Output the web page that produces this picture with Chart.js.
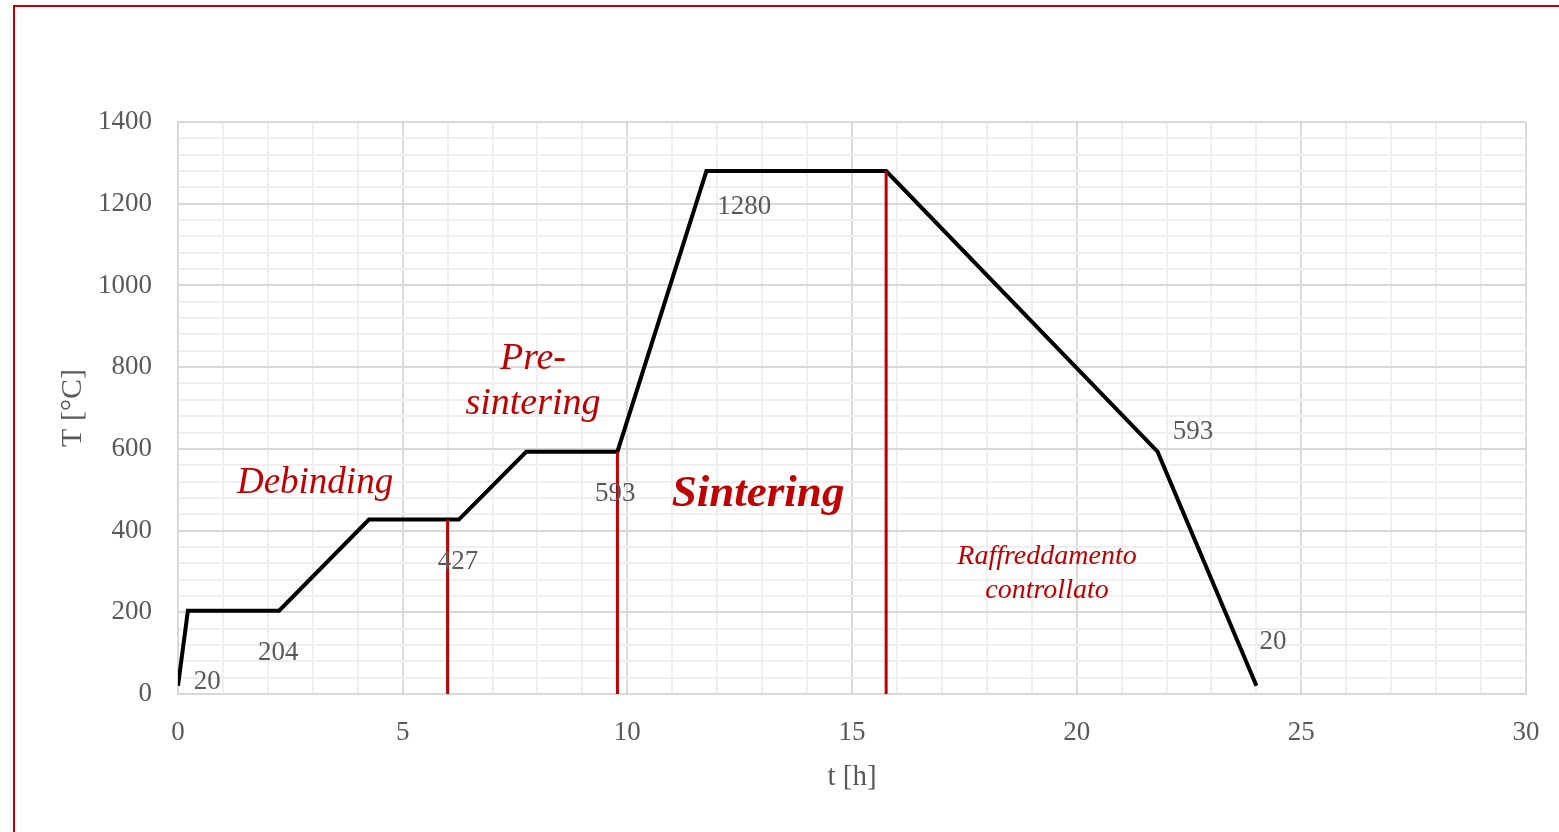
<!DOCTYPE html>
<html>
<head>
<meta charset="utf-8">
<script src="https://cdn.jsdelivr.net/npm/chart.js@4/dist/chart.umd.min.js"></script>
<style>
  html, body { margin: 0; padding: 0; background: #fff; overflow: hidden; }
  #wrap { position: relative; width: 1559px; height: 832px; }
  #frame { position: absolute; left: 13px; top: 5px; right: 0; bottom: 0;
           border-left: 2px solid #c00000; border-top: 2px solid #c00000; pointer-events: none; }
  canvas { position: absolute; left: 0; top: 0; }
</style>
</head>
<body>
<div id="wrap">
  <canvas id="chart" width="1559" height="832"></canvas>
  <div id="frame"></div>
</div>
<script>
// ── Data ───────────────────────────────────────────────────────────────
var timeH = [0, 0.22, 2.25, 4.25, 6.25, 7.75, 9.78, 11.76, 15.76, 21.8, 24.0];
var tempC = [20, 204, 204, 427, 427, 593, 593, 1280, 1280, 593, 20];
// phase boundaries (t) and the temperature the red marker reaches
var boundaryT = [6.0, 9.78, 15.76];
var boundaryTemp = [427, 593, 1280];
// value labels next to the curve
var valueText = ["20", "204", "427", "593", "1280", "593", "20"];
var valueAtT = [0.65, 2.23, 6.23, 9.73, 12.6, 22.59, 24.37];
var valueAtY = [30, 101, 324, 490, 1193, 642, 128];
// phase names
var phaseText = ["Debinding", "Pre-", "sintering", "Sintering", "Raffreddamento", "controllato"];
var phaseAtT = [3.05, 7.9, 7.9, 12.91, 19.34, 19.34];
var phaseAtY = [516, 819, 709, 489, 335, 252];
var phaseFont = ["italic 37px 'Liberation Serif'", "italic 38px 'Liberation Serif'",
                 "italic 38px 'Liberation Serif'", "italic bold 45px 'Liberation Serif'",
                 "italic 28px 'Liberation Serif'", "italic 28px 'Liberation Serif'"];

var RED = "#c00000";
var GREY = "#595959";

var datasets = boundaryT.map(function (t, i) {
    return {
        data: [{ x: t, y: 0 }, { x: t, y: boundaryTemp[i] }],
        borderColor: RED,
        borderWidth: 3,
        pointRadius: 0,
        tension: 0,
    };
});
datasets.push({
    data: timeH.map(function (t, i) { return { x: t, y: tempC[i] }; }),
    borderColor: "#000",
    borderWidth: 4,
    pointRadius: 0,
    tension: 0,
    borderJoinStyle: "miter",
});

// ── Text labels drawn in data coordinates ──────────────────────────────
var labelPlugin = {
    id: "labels",
    afterDatasetsDraw: function (chart) {
        var ctx = chart.ctx;
        var xs = chart.scales.x, ys = chart.scales.y;
        ctx.save();
        ctx.textAlign = "center";
        ctx.textBaseline = "middle";
        ctx.fillStyle = GREY;
        ctx.font = "27px 'Liberation Serif'";
        valueText.forEach(function (s, i) {
            ctx.fillText(s, xs.getPixelForValue(valueAtT[i]), ys.getPixelForValue(valueAtY[i]));
        });
        ctx.fillStyle = RED;
        phaseText.forEach(function (s, i) {
            ctx.font = phaseFont[i];
            ctx.fillText(s, xs.getPixelForValue(phaseAtT[i]), ys.getPixelForValue(phaseAtY[i]));
        });
        ctx.restore();
    }
};

new Chart(document.getElementById("chart"), {
    type: "line",
    data: { datasets: datasets },
    plugins: [labelPlugin],
    options: {
        responsive: false,
        animation: false,
        events: [],
        layout: { padding: { top: 122, right: 33, left: 0, bottom: 0 } },
        plugins: { legend: { display: false }, tooltip: { enabled: false } },
        scales: {
            x: {
                type: "linear",
                min: 0, max: 30,
                afterFit: function (s) { s.height = 138; s.paddingRight = 0; s.paddingLeft = 0; },
                ticks: {
                    stepSize: 1, autoSkip: false, maxRotation: 0, padding: 23,
                    color: GREY, font: { family: "Liberation Serif", size: 27 },
                    callback: function (v) { return v % 5 === 0 ? v : ""; }
                },
                grid: {
                    drawTicks: false,
                    color: function (c) { return c.tick && c.tick.value % 5 === 0 ? "#d9d9d9" : "#efefef"; },
                    lineWidth: 2,
                },
                border: { color: "#d9d9d9", width: 2 },
                title: {
                    display: true, text: "t [h]", color: GREY, padding: { top: 0, bottom: 37 },
                    font: { family: "Liberation Serif", size: 29 }
                }
            },
            y: {
                min: 0, max: 1400,
                afterFit: function (s) { s.width = 178; },
                ticks: {
                    stepSize: 40, autoSkip: false, padding: 26,
                    color: GREY, font: { family: "Liberation Serif", size: 27 },
                    callback: function (v) { return v % 200 === 0 ? v : ""; }
                },
                grid: {
                    drawTicks: false,
                    color: function (c) { return c.tick && c.tick.value % 200 === 0 ? "#d9d9d9" : "#efefef"; },
                    lineWidth: 2,
                },
                border: { color: "#d9d9d9", width: 2 },
                title: {
                    display: true, text: "T [°C]", color: GREY, padding: { top: 55, bottom: 0 },
                    font: { family: "Liberation Serif", size: 30 }
                }
            }
        }
    }
});
</script>
</body>
</html>
